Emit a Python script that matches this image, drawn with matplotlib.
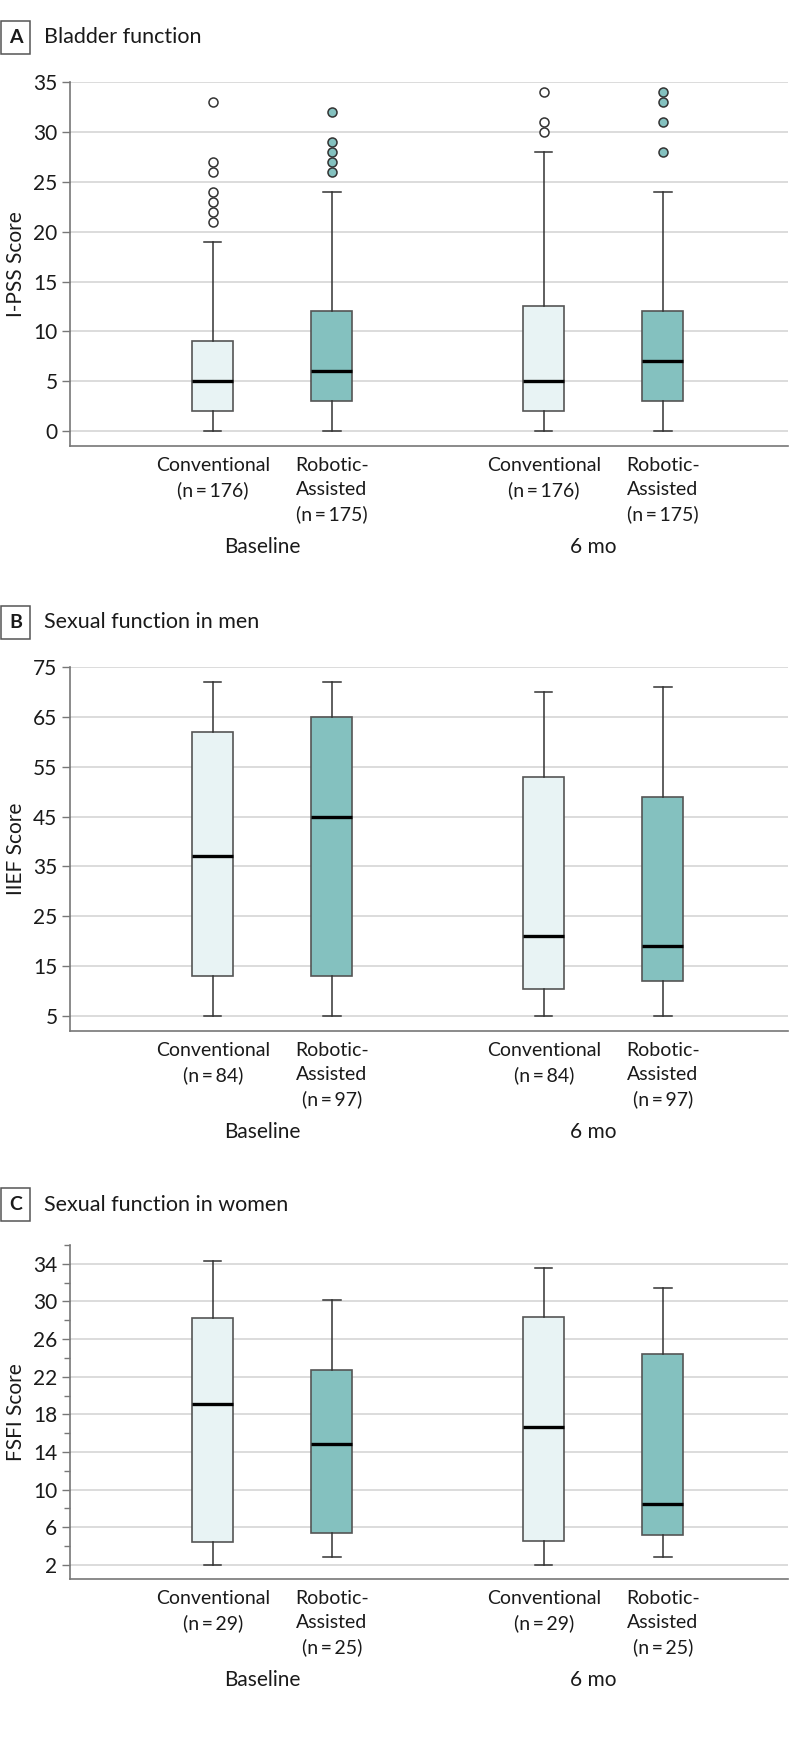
import matplotlib
matplotlib.use("Agg")
import matplotlib.pyplot as plt

plt.rcParams['font.family'] = ['Lato', 'DejaVu Sans']

# ---------------- data ----------------
groups = ["Baseline", "6 mo"]
arms = ["Conventional", "Robotic-\nAssisted"]

# Panel A: I-PSS  (low whisker, Q1, median, Q3, high whisker)
a_low = [0, 0, 0, 0]
a_q1 = [2, 3, 2, 3]
a_med = [5, 6, 5, 7]
a_q3 = [9, 12, 12.5, 12]
a_high = [19, 24, 28, 24]
a_fliers = [[21, 22, 23, 24, 26, 27, 33], [26, 27, 28, 29, 32], [30, 31, 34], [28, 31, 33, 34]]
a_n = [176, 175, 176, 175]
a_ticks = [0, 5, 10, 15, 20, 25, 30, 35]

# Panel B: IIEF
b_low = [5, 5, 5, 5]
b_q1 = [13, 13, 10.5, 12]
b_med = [37, 45, 21, 19]
b_q3 = [62, 65, 53, 49]
b_high = [72, 72, 70, 71]
b_n = [84, 97, 84, 97]
b_ticks = [5, 15, 25, 35, 45, 55, 65, 75]

# Panel C: FSFI
c_low = [2, 2.8, 2, 2.8]
c_q1 = [4.4, 5.4, 4.5, 5.2]
c_med = [19.1, 14.8, 16.7, 8.5]
c_q3 = [28.2, 22.7, 28.3, 24.4]
c_high = [34.25, 30.1, 33.6, 31.4]
c_n = [29, 25, 29, 25]
c_ticks = [2, 6, 10, 14, 18, 22, 26, 30, 34]
c_minor = [4, 8, 12, 16, 20, 24, 28, 32, 36]

# ---------------- style ----------------
LIGHT = "#e8f3f4"
TEAL = "#84c1bf"
EDGE = "#555555"
WHISK = "#333333"
GRID = "#d9d9d9"
SPINE = "#777777"
TXT = "#1a1a1a"

positions = [1, 2, 3.78, 4.78]
box_w = 0.345
fills = [LIGHT, TEAL, LIGHT, TEAL]

fig = plt.figure(figsize=(7.98, 17.5), dpi=100)

def panel(rect, low, q1, med, q3, high, fliers, ns, ylim, ticks, minor, ylabel, letter, title, title_y):
    ax = fig.add_axes(rect)
    for i in range(4):
        st = dict(whislo=low[i], q1=q1[i], med=med[i], q3=q3[i], whishi=high[i],
                  fliers=fliers[i] if fliers else [])
        ax.bxp([st], positions=[positions[i]], widths=box_w, patch_artist=True,
               showfliers=True, capwidths=0.145,
               boxprops=dict(facecolor=fills[i], edgecolor=EDGE, linewidth=1.2),
               medianprops=dict(color="black", linewidth=2.4),
               whiskerprops=dict(color=WHISK, linewidth=1.1),
               capprops=dict(color=WHISK, linewidth=1.1),
               flierprops=dict(marker="o", markersize=6.5, markerfacecolor=fills[i] if i % 2 else "white",
                               markeredgecolor="#333333", markeredgewidth=1.1))
    ax.set_xlim(-0.2, 5.83)
    ax.set_ylim(*ylim)
    ax.set_yticks(ticks)
    if minor:
        ax.set_yticks(minor, minor=True)
        ax.tick_params(axis="y", which="minor", length=4, width=1.0, color=SPINE)
    ax.grid(axis="y", which="major", color=GRID, linewidth=1.3)
    ax.set_axisbelow(True)
    for s in ["top", "right"]:
        ax.spines[s].set_visible(False)
    for s in ["left", "bottom"]:
        ax.spines[s].set_color(SPINE)
        ax.spines[s].set_linewidth(1.2)
    ax.tick_params(axis="y", which="major", length=6, width=1.0, color=SPINE,
                   labelsize=15, labelcolor=TXT, pad=3)
    labels = [f"{arms[i % 2]}\n(n\u2009=\u2009{ns[i]})" for i in range(4)]
    ax.set_xticks(positions)
    ax.set_xticklabels(labels, fontsize=14, color=TXT, linespacing=1.5, va="top")
    ax.tick_params(axis="x", length=0, pad=8)
    ax.set_ylabel(ylabel, fontsize=15, color=TXT, labelpad=5)
    for g in range(2):
        xc = (positions[2 * g] + positions[2 * g + 1]) / 2 - 0.085
        ax.annotate(groups[g], xy=(xc, 0), xycoords=("data", "axes fraction"),
                    xytext=(0, -73), textcoords="offset points",
                    ha="center", va="center", fontsize=15, color=TXT)
    fig.text(0.0195, title_y, letter, fontsize=14, fontweight="bold", color=TXT,
             ha="center", va="center",
             bbox=dict(boxstyle="square,pad=0.42", fc="white", ec=EDGE, lw=1.1))
    fig.text(0.0551, title_y, title, fontsize=15.5, color=TXT, ha="left", va="center")
    return ax

panel([0.0877, 0.7451, 0.8997, 0.208], a_low, a_q1, a_med, a_q3, a_high, a_fliers, a_n,
      (-1.5, 35), a_ticks, None, "I-PSS Score", "A", "Bladder function", 0.9786)
panel([0.0877, 0.4109, 0.8997, 0.208], b_low, b_q1, b_med, b_q3, b_high, None, b_n,
      (2, 75), b_ticks, None, "IIEF Score", "B", "Sexual function in men", 0.6443)
panel([0.0877, 0.0977, 0.8997, 0.1909], c_low, c_q1, c_med, c_q3, c_high, None, c_n,
      (0.5, 36), c_ticks, c_minor, "FSFI Score", "C", "Sexual function in women", 0.3117)

fig.savefig("out.png", dpi=100, facecolor="white")
